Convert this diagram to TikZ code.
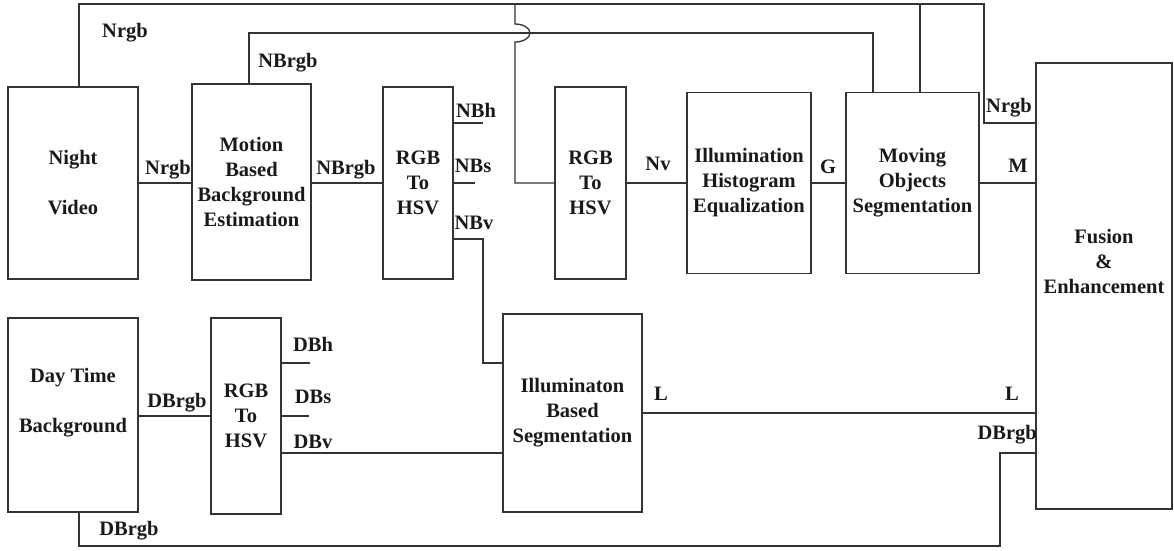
\documentclass[tikz,border=0pt]{standalone}
\usepackage{fontspec}
\setmainfont{Liberation Serif}
\begin{document}
\begin{tikzpicture}[x=1pt,y=-1pt,
  box/.style={draw=black!80,line width=1.3pt,rectangle,inner sep=0pt,align=center,
    font=\fontsize{20.5}{25}\selectfont\bfseries,text=black!90},
  txt/.style={inner sep=0pt,align=center,font=\fontsize{20.5}{25}\selectfont\bfseries,text=black!90},
  conn/.style={draw=black!80,line width=1.3pt}]
\useasboundingbox (0,0) rectangle (1174,550);
% boxes
\node[box,minimum width=130,minimum height=192] (night) at (73,183) {Night\\[25pt]Video};
\node[box,minimum width=119,minimum height=196] (motion) at (251.5,182) {Motion\\Based\\Background\\Estimation};
\node[box,minimum width=70,minimum height=192] (rgbA) at (418,183) {RGB\\To\\HSV};
\node[box,minimum width=71,minimum height=192] (rgbB) at (590.5,183) {RGB\\To\\HSV};
\node[box,minimum width=124,minimum height=181] (hist) at (749,183) {Illumination\\Histogram\\Equalization};
\node[box,minimum width=133,minimum height=181] (moving) at (912.5,183) {Moving\\Objects\\Segmentation};
\node[box,minimum width=136,minimum height=446] (fusion) at (1104,286) {};
\node[txt] (fusiontxt) at (1104,261) {Fusion\\\&\\Enhancement};
\node[box,minimum width=130,minimum height=194] (day) at (73,415) {};
\node[txt] (daytxt) at (73,403) {Day Time\\[25pt]Background};
\node[box,minimum width=70,minimum height=196] (rgbC) at (246,416) {RGB\\To\\HSV};
\node[box,minimum width=139,minimum height=198] (illum) at (572.5,413) {Illuminaton\\Based\\Segmentation};
% coordinates
\coordinate (ta) at (79,4);
\coordinate (tb) at (984,4);
\coordinate (tc) at (984,123);
\coordinate (ja) at (515,4);
\coordinate (jb) at (920,4);
\coordinate (ha) at (515,24);
\coordinate (na) at (249,33);
\coordinate (nb) at (873,33);
\coordinate (sh) at (483,123);
\coordinate (ss) at (475,183);
\coordinate (va) at (483,239);
\coordinate (vb) at (483,363);
\coordinate (dh) at (310,363);
\coordinate (ds) at (309,416);
\coordinate (dv) at (503,453);
\coordinate (db) at (79,546);
\coordinate (dc) at (1000,546);
\coordinate (dd) at (1000,453);
% connectors
\draw[conn] (night.north -| ta) -- (ta) -- (tb) -- (tc) -- (tc -| fusion.west);
\draw[conn] (ja) -- (ha) arc[start angle=-90,end angle=90,x radius=15,y radius=9] -- (ja |- rgbB.west) -- (rgbB.west);
\draw[conn] (jb) -- (jb |- moving.north);
\draw[conn] (motion.north -| na) -- (na) -- (nb) -- (nb |- moving.north);
\draw[conn] (night.east) -- (night.east -| motion.west);
\draw[conn] (motion.east |- rgbA.west) -- (rgbA.west);
\draw[conn] (rgbA.east |- sh) -- (sh);
\draw[conn] (rgbA.east |- ss) -- (ss);
\draw[conn] (rgbA.east |- va) -- (va) -- (vb) -- (vb -| illum.west);
\draw[conn] (rgbB.east) -- (hist.west);
\draw[conn] (hist.east) -- (moving.west);
\draw[conn] (moving.east) -- (moving.east -| fusion.west);
\draw[conn] (rgbC.west -| day.east) -- (rgbC.west);
\draw[conn] (rgbC.east |- dh) -- (dh);
\draw[conn] (rgbC.east |- ds) -- (ds);
\draw[conn] (dv -| rgbC.east) -- (dv -| illum.west);
\draw[conn] (illum.east) -- (illum.east -| fusion.west);
\draw[conn] (day.south -| db) -- (db) -- (dc) -- (dd) -- (dd -| fusion.west);
% labels
\node[txt] (l1) at (125,33) {Nrgb};
\node[txt] (l2) at (288,63) {NBrgb};
\node[txt] (l3) at (168,170) {Nrgb};
\node[txt] (l4) at (346,170) {NBrgb};
\node[txt] (l5) at (476,110) {NBh};
\node[txt] (l6) at (473,166) {NBs};
\node[txt] (l7) at (474,223) {NBv};
\node[txt] (l8) at (658,164) {Nv};
\node[txt] (l9) at (828,167) {G};
\node[txt] (l10) at (1018,166) {M};
\node[txt] (l11) at (1009,108) {Nrgb};
\node[txt] (l12) at (177,403) {DBrgb};
\node[txt] (l13) at (313,344) {DBh};
\node[txt] (l14) at (313,397) {DBs};
\node[txt] (l15) at (313,442) {DBv};
\node[txt] (l16) at (661,394) {L};
\node[txt] (l17) at (1012,394) {L};
\node[txt,anchor=east] (l18) at (1037,435) {DBrgb};
\node[txt] (l19) at (129,531) {DBrgb};
\end{tikzpicture}
\end{document}
